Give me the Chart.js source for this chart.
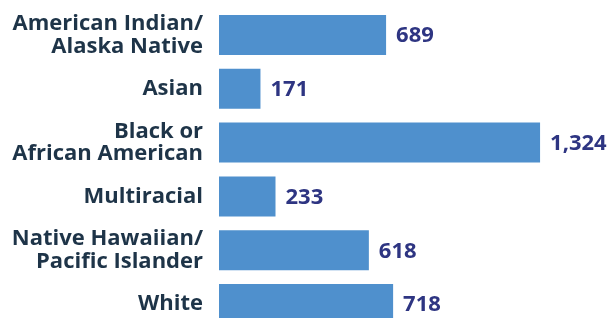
<!DOCTYPE html>
<html><head><meta charset="utf-8">
<script src="https://cdn.jsdelivr.net/npm/chart.js@4/dist/chart.umd.min.js"></script>
<style>html,body{margin:0;padding:0;background:#fff;overflow:hidden;width:610px;height:318px}#w{width:610px;height:331px;position:relative}</style>
</head><body><div id="w"><canvas id="c"></canvas></div>
<script>
const categories = [["American Indian/","Alaska Native"],"Asian",["Black or","African American"],"Multiracial",["Native Hawaiian/","Pacific Islander"],"White"];
const values = [689, 171, 1324, 233, 618, 718];
const valueLabels = ["689","171","1,324","233","618","718"];

const FONT = "'Open Sans', sans-serif";
const valuePlugin = {
  id: 'vals',
  afterDatasetsDraw(chart) {
    const ctx = chart.ctx;
    const meta = chart.getDatasetMeta(0);
    ctx.save();
    ctx.font = "bold 22px " + FONT;
    ctx.fillStyle = "#2e3582";
    ctx.textAlign = "left";
    ctx.textBaseline = "middle";
    meta.data.forEach((bar, i) => {
      ctx.fillText(valueLabels[i], bar.x + 10, bar.y + 1);
    });
    ctx.restore();
  }
};

new Chart(document.getElementById('c'), {
  type: 'bar',
  data: { labels: categories, datasets: [{ data: values, backgroundColor: '#4f90cd', borderWidth: 0, categoryPercentage: 1, barPercentage: 0.744 }] },
  options: {
    indexAxis: 'y', responsive: true, maintainAspectRatio: false, animation: false,
    layout: { padding: { top: 8, right: 3, bottom: 0, left: 0 } },
    plugins: { legend: { display: false }, tooltip: { enabled: false } },
    scales: {
      x: { display: false, min: 0, max: 1600 },
      y: {
        grid: { display: false, drawTicks: false }, border: { display: false },
        afterFit(s) { s.width = 219; s.paddingTop = 0; s.paddingBottom = 0; },
        ticks: { padding: 16, color: '#1e3448', font: { family: FONT, weight: 'bold', size: 22, lineHeight: 1.03 } }
      }
    }
  },
  plugins: [valuePlugin]
});
</script></body></html>
